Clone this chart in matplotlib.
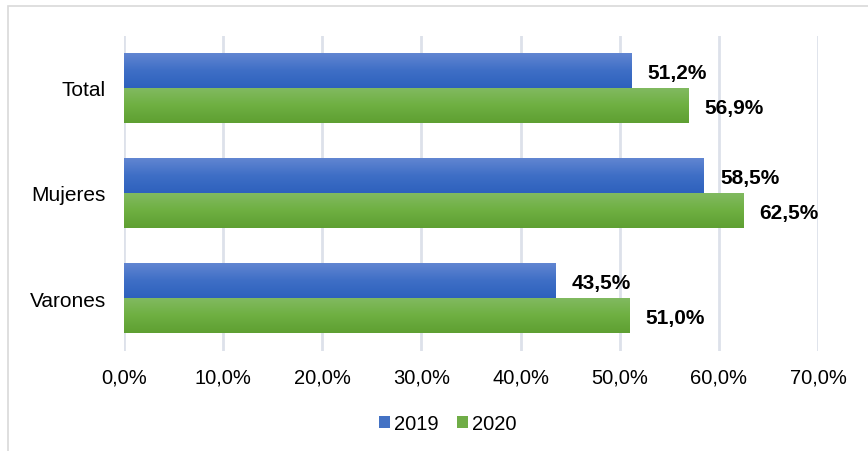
import matplotlib.pyplot as plt
import numpy as np
from matplotlib.colors import LinearSegmentedColormap
from matplotlib.patches import Rectangle

# Data
categories = ['Total', 'Mujeres', 'Varones']
values_2019 = [0.512, 0.585, 0.435]
values_2020 = [0.569, 0.625, 0.510]
labels_2019 = ['51,2%', '58,5%', '43,5%']
labels_2020 = ['56,9%', '62,5%', '51,0%']
ticks = [0.0, 0.1, 0.2, 0.3, 0.4, 0.5, 0.6, 0.7]
tick_labels = ['0,0%', '10,0%', '20,0%', '30,0%', '40,0%', '50,0%', '60,0%', '70,0%']

plt.rcParams['font.family'] = ['Liberation Sans', 'DejaVu Sans']

fig = plt.figure(figsize=(8.68, 4.52), dpi=100)
ax = fig.add_axes([124 / 868, 1 - 352 / 452, 694 / 868, 315 / 452])

# outer chart border (light gray), running off the right and bottom edge
fig.patches.append(Rectangle((8 / 868, -0.1), 1.0, 1 - 7 / 452 + 0.1,
                             transform=fig.transFigure, fill=False,
                             edgecolor='#d9d9d9', linewidth=1.2))

y = np.arange(len(categories))
h = 1 / 3
bars_2019 = ax.barh(y - h / 2, values_2019, height=h, color='#4472c4', label='2019', zorder=2)
bars_2020 = ax.barh(y + h / 2, values_2020, height=h, color='#70ad47', label='2020', zorder=2)

# vertical gradients clipped to each bar
grad = np.linspace(0, 1, 100).reshape(-1, 1)
blue_cmap = LinearSegmentedColormap.from_list('b', ['#6387d2', '#3f6fc6', '#2e61bd'])
green_cmap = LinearSegmentedColormap.from_list('g', ['#82ba62', '#6fb042', '#5e9f32'])
for bars, cmap in ((bars_2019, blue_cmap), (bars_2020, green_cmap)):
    for bar in bars:
        x0, y0 = bar.get_x(), bar.get_y()
        w, bh = bar.get_width(), bar.get_height()
        im = ax.imshow(grad, cmap=cmap, aspect='auto', zorder=3,
                       extent=[x0, x0 + w, y0 + bh, y0], origin='upper')
        im.set_clip_path(bar)

# data labels
for bars, labels in ((bars_2019, labels_2019), (bars_2020, labels_2020)):
    for bar, lab in zip(bars, labels):
        ax.annotate(lab, (bar.get_width(), bar.get_y() + bar.get_height() / 2),
                    xytext=(16, -2), textcoords='offset pixels',
                    ha='left', va='center', fontsize=15, fontweight='bold', color='black')

ax.set_xlim(0, 0.7)
ax.set_ylim(2.5, -0.49)
ax.set_xticks(ticks)
ax.set_xticklabels(tick_labels, fontsize=14.5)
ax.set_yticks(y)
ax.set_yticklabels(categories, fontsize=15)
ax.tick_params(axis='x', length=0, pad=12)
ax.tick_params(axis='y', length=0, pad=13)
ax.grid(axis='x', color='#dde1ea', linewidth=2, zorder=0)
for s in ax.spines.values():
    s.set_visible(False)

fig.legend(handles=[bars_2019, bars_2020], labels=['2019', '2020'],
           loc='center', bbox_to_anchor=(448 / 868, 1 - 425 / 452), ncol=2,
           frameon=False, fontsize=14.5, handlelength=0.55, handleheight=0.55,
           handletextpad=0.2, columnspacing=0.9)

fig.savefig('out.png', dpi=100)
